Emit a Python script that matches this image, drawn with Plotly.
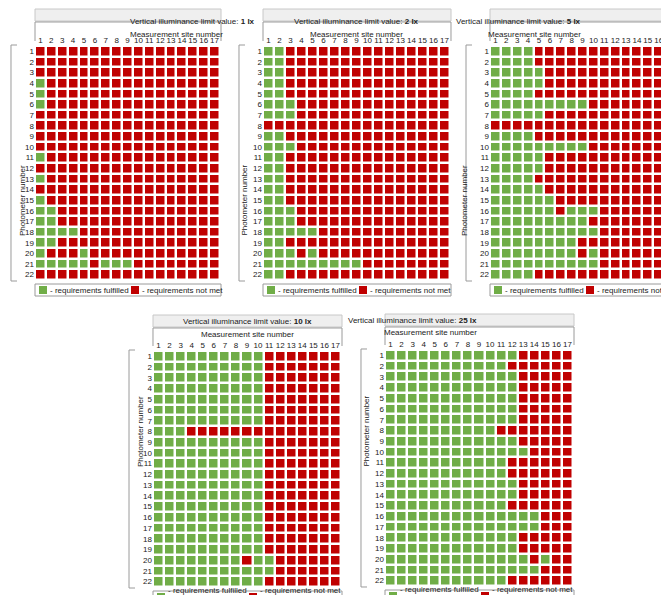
import plotly.graph_objects as go

W, H = 669, 595
GREEN = "#70ad47"
RED = "#c00000"

sites = [str(i) for i in range(1, 18)]
photometers = [str(i) for i in range(1, 23)]
limits = ["1 lx", "2 lx", "5 lx", "10 lx", "25 lx"]

# G = requirements fulfilled, R = requirements not met (rows = photometers 1..22)
lim_1lx = [
    "RRRRRRRRRRRRRRRRR", "RRRRRRRRRRRRRRRRR", "RRRRRRRRRRRRRRRRR", "GRRRRRRRRRRRRRRRR",
    "GRRRRRRRRRRRRRRRR", "GRRRRRRRRRRRRRRRR", "RRRRRRRRRRRRRRRRR", "RRRRRRRRRRRRRRRRR",
    "RRRRRRRRRRRRRRRRR", "RRRRRRRRRRRRRRRRR", "GRRRRRRRRRRRRRRRR", "RRRRRRRRRRRRRRRRR",
    "GRRRRRRRRRRRRRRRR", "RRRRRRRRRRRRRRRRR", "GRRRRRRRRRRRRRRRR", "GGRRRRRRRRRRRRRRR",
    "GGRRRRRRRRRRRRRRR", "GGGGRRRRRRRRRRRRR", "GGRRRRRRRRRRRRRRR", "GRRRGRRRRRRRRRRRR",
    "GGGGGRGGGRRRRRRRR", "RRRRRRRRRRRRRRRRR",
]
lim_2lx = [
    "GGRRRRRRRRRRRRRRR", "GGRRRRRRRRRRRRRRR", "GGRRRRRRRRRRRRRRR", "GGRRRRRRRRRRRRRRR",
    "GGRRRRRRRRRRRRRRR", "GGGRRRRRRRRRRRRRR", "GGGRRRRRRRRRRRRRR", "RRRRRRRRRRRRRRRRR",
    "GGRRRRRRRRRRRRRRR", "GGGRRRRRRRRRRRRRR", "GGRRRRRRRRRRRRRRR", "GGRRRRRRRRRRRRRRR",
    "GGRRRRRRRRRRRRRRR", "GGRRRRRRRRRRRRRRR", "GGRRRRRRRRRRRRRRR", "GGGRRRRRRRRRRRRRR",
    "GGGRRRRRRRRRRRRRR", "GGGGGRRRRRRRRRRRR", "GGRRRRRRRRRRRRRRR", "GGGRGRRRRRRRRRRRR",
    "GGGGGGGGGRRRRRRRR", "GGRRRRRRRRRRRRRRR",
]
lim_5lx = [
    "GGGGRRRRRRRRRRRRR", "GGGGRRRRRRRRRRRRR", "GGGGGRRRRRRRRRRRR", "GGGGGRRRRRRRRRRRR",
    "GGGGRRRRRRRRRRRRR", "GGGGGGGGGRRRRRRRR", "GGGGGRRRRRRRRRRRR", "RRRRRRRRRRRRRRRRR",
    "GGGGRRRRRRRRRRRRR", "GGGGGGGGGRRRRRRRR", "GGGGGRRRRRRRRRRRR", "GGGGGRRRRRRRRRRRR",
    "GGGGRRRRRRRRRRRRR", "GGGGGRRRRRRRRRRRR", "GGGGGGRRRRRRRRRRR", "GGGGGGRGGGRRRRRRR",
    "GGGGGGGGGRRRRRRRR", "GGGGGGGGGGRRRRRRR", "GGGGGGGGRRRRRRRRR", "GGGGGGGGRGRRRRRRR",
    "GGGGGGGGGGRRRRRRR", "GGGGRRRRRRRRRRRRR",
]
lim_10lx = [
    "GGGGGGGGGGRRRRRRR", "GGGGGGGGGGRRRRRRR", "GGGGGGGGGGRRRRRRR", "GGGGGGGGGGRRRRRRR",
    "GGGGGGGGGGRRRRRRR", "GGGGGGGGGGRRRRRRR", "GGGGGGGGGGRRRRRRR", "GGGRRRRRRRRRRRRRR",
    "GGGGGGGGGGRRRRRRR", "GGGGGGGGGGRRRRRRR", "GGGGGGGGGGRRRRRRR", "GGGGGGGGGGRRRRRRR",
    "GGGGGGGGGGRRRRRRR", "GGGGGGGGGGRRRRRRR", "GGGGGGGGGGRRRRRRR", "GGGGGGGGGGRRRRRRR",
    "GGGGGGGGGGRRRRRRR", "GGGGGGGGGGRRRRRRR", "GGGGGGGGGGRRRRRRR", "GGGGGGGGRGGRRRRRR",
    "GGGGGGGGGGGRRRRRR", "GGGGGGGGGGRRRRRRR",
]
lim_25lx = [
    "GGGGGGGGGGGGRRRRR", "GGGGGGGGGGGRRRRRR", "GGGGGGGGGGGGRRRRR", "GGGGGGGGGGGGRRRRR",
    "GGGGGGGGGGGGRRRRR", "GGGGGGGGGGGGRRRRR", "GGGGGGGGGGGGRRRRR", "GGGGGGGGGGRRRRRRR",
    "GGGGGGGGGGGGRRRRR", "GGGGGGGGGGGGGRRRR", "GGGGGGGGGGGRRRRRR", "GGGGGGGGGGGRRRRRR",
    "GGGGGGGGGGGGRRRRR", "GGGGGGGGGGGGRRRRR", "GGGGGGGGGGGRRRRRR", "GGGGGGGGGGGGGGRRR",
    "GGGGGGGGGGGGGGRRR", "GGGGGGGGGGGGRRRRR", "GGGGGGGGGGGGRRRRR", "GGGGGGGGGGGGGRGRR",
    "GGGGGGGGGGGGGGRRR", "GGGGGGGGGGGRRRRRR",
]
grids = [lim_1lx, lim_2lx, lim_5lx, lim_10lx, lim_25lx]

# grid boxes in pixels: x0, x1, y0 (top), y1 (bottom), title bar top
boxes = [
    (27, 212, 38, 272, 1),
    (255, 442, 38, 272, 1),
    (482, 667, 38, 272, 1),
    (145, 333, 343, 579, 307),
    (377, 565, 342, 578, 306),
]

px = lambda x: x / W
py = lambda y: 1 - y / H

fig = go.Figure()
shapes, annotations = [], []
layout_axes = {}

for i, (grid, lim, (x0, x1, y0, y1, t0)) in enumerate(zip(grids, limits, boxes)):
    n = "" if i == 0 else str(i + 1)
    z = [[1 if c == "G" else 0 for c in row] for row in grid]
    fig.add_trace(go.Heatmap(
        z=z, x=sites, y=photometers, xaxis="x" + n, yaxis="y" + n,
        colorscale=[[0, RED], [1, GREEN]], zmin=0, zmax=1, showscale=False,
        xgap=2.5, ygap=2.5,
    ))
    layout_axes["xaxis" + n] = dict(
        domain=[px(x0), px(x1)], anchor="y" + n, side="top", ticks="",
        tickfont=dict(size=8, color="#222"), showgrid=False, zeroline=False,
        fixedrange=True, tickangle=0, automargin=False, dtick=1, ticklabelstandoff=0,
    )
    layout_axes["yaxis" + n] = dict(
        domain=[py(y1), py(y0)], anchor="x" + n, autorange="reversed", ticks="",
        tickfont=dict(size=8, color="#222"), showgrid=False, zeroline=False,
        fixedrange=True, automargin=False, dtick=1,
    )
    # title bar
    shapes.append(dict(type="rect", xref="paper", yref="paper",
                       x0=px(x0), x1=px(x1 + 1), y0=py(t0 + 12), y1=py(t0),
                       fillcolor="#efefef", line=dict(color="#c8c8c8", width=1)))
    annotations.append(dict(xref="paper", yref="paper", x=px((x0 + x1) / 2), y=py(t0 + 6),
                            text="Vertical illuminance limit value: <b>%s</b>" % lim,
                            showarrow=False, font=dict(size=8, color="#222")))
    # header box
    shapes.append(dict(type="path", xref="paper", yref="paper",
                       path="M %f %f L %f %f L %f %f L %f %f" % (
                           px(x0), py(y0 - 5), px(x0), py(t0 + 13),
                           px(x1 + 1), py(t0 + 13), px(x1 + 1), py(y0 - 5)),
                       line=dict(color="#9a9a9a", width=1)))
    annotations.append(dict(xref="paper", yref="paper", x=px((x0 + x1) / 2), y=py(t0 + 19),
                            text="Measurement site number", showarrow=False,
                            font=dict(size=8, color="#222")))
    # photometer bracket and label
    bx = x0 - 24
    shapes.append(dict(type="path", xref="paper", yref="paper",
                       path="M %f %f L %f %f L %f %f L %f %f" % (
                           px(bx + 6), py(y0 - 1), px(bx), py(y0 - 1),
                           px(bx), py(y1 + 1), px(bx + 6), py(y1 + 1)),
                       line=dict(color="#9a9a9a", width=1)))
    annotations.append(dict(xref="paper", yref="paper", x=px(bx + 5), y=py((y0 + y1) / 2),
                            text="Photometer number", textangle=-90, showarrow=False,
                            font=dict(size=8, color="#222")))
    # legend box
    ly = y1 + 4
    shapes.append(dict(type="rect", xref="paper", yref="paper",
                       x0=px(x0), x1=px(x1 + 1), y0=py(ly + 12), y1=py(ly),
                       fillcolor="white", line=dict(color="#9a9a9a", width=1)))
    for sx, col, txt in [(x0 + 4, GREEN, "- requirements fulfilled"),
                         (x0 + 96, RED, "- requirements not met")]:
        shapes.append(dict(type="rect", xref="paper", yref="paper",
                           x0=px(sx), x1=px(sx + 8), y0=py(ly + 10), y1=py(ly + 2),
                           fillcolor=col, line=dict(width=0)))
        annotations.append(dict(xref="paper", yref="paper", x=px(sx + 9), y=py(ly + 6),
                                xanchor="left", text=txt, showarrow=False,
                                font=dict(size=8, color="#222")))

fig.update_layout(
    width=W, height=H, margin=dict(l=0, r=0, t=0, b=0),
    paper_bgcolor="white", plot_bgcolor="white",
    font=dict(family="Liberation Sans, Arial, sans-serif"),
    shapes=shapes, annotations=annotations, **layout_axes,
)

fig.write_html("out.html")
